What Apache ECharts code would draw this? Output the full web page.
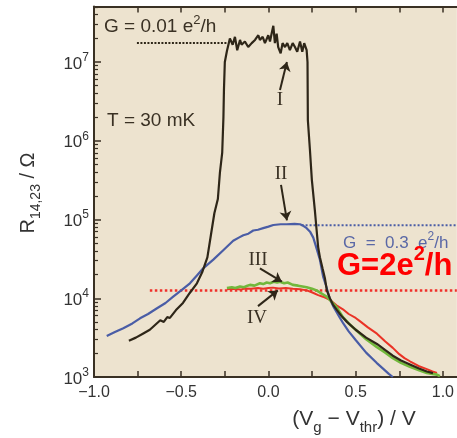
<!DOCTYPE html>
<html>
<head>
<meta charset="utf-8">
<script src="https://cdn.jsdelivr.net/npm/echarts@6/dist/echarts.min.js"></script>
<style>
  html, body { margin: 0; padding: 0; background: #fff; }
  #chart { width: 457px; height: 438px; }
</style>
</head>
<body>
<div id="chart"></div>
<script>
// curves: x = Vg - Vthr (V), y = log10(R / Ohm)
const blackX = [-0.80, -0.76, -0.72, -0.68, -0.65, -0.62, -0.60, -0.58, -0.565, -0.53, -0.49, -0.45, -0.41, -0.38, -0.35, -0.33, -0.31, -0.29, -0.278, -0.265, -0.258, -0.255, -0.25, -0.238,
  -0.221, -0.205, -0.192, -0.179, -0.163, -0.154, -0.135, -0.116, -0.096, -0.077, -0.058, -0.049, -0.033, -0.020, -0.001, 0.009, 0.018, 0.028, 0.037, 0.047, 0.056, 0.070, 0.081, 0.095, 0.108, 0.123, 0.139, 0.152, 0.165, 0.181, 0.194, 0.205, 0.219,
  0.224, 0.226, 0.238, 0.249, 0.266, 0.276, 0.285, 0.295, 0.31, 0.324, 0.335, 0.352, 0.37, 0.393, 0.42, 0.45, 0.50, 0.56, 0.622, 0.67, 0.713, 0.76, 0.811, 0.86, 0.908, 0.943];
const blackLogR = [3.46, 3.50, 3.55, 3.60, 3.66, 3.72, 3.70, 3.76, 3.75, 3.85, 3.94, 4.07, 4.19, 4.33, 4.52, 4.80, 5.08, 5.26, 5.60, 5.85, 6.30, 6.65, 7.00, 7.14,
  7.30, 7.22, 7.32, 7.15, 7.28, 7.22, 7.26, 7.19, 7.24, 7.28, 7.34, 7.28, 7.32, 7.24, 7.34, 7.26, 7.36, 7.46, 7.24, 7.36, 7.19, 7.11, 7.24, 7.19, 7.24, 7.15, 7.24, 7.19, 7.13, 7.26, 7.13, 7.24, 7.15,
  7.00, 6.26, 5.88, 5.50, 5.12, 4.87, 4.65, 4.52, 4.38, 4.25, 4.10, 4.00, 3.92, 3.85, 3.77, 3.70, 3.60, 3.50, 3.42, 3.34, 3.27, 3.21, 3.16, 3.11, 3.07, 3.05];

const blueX = [-0.927, -0.88, -0.832, -0.78, -0.736, -0.69, -0.641, -0.59, -0.546, -0.50, -0.45, -0.41, -0.374, -0.316, -0.259, -0.202, -0.17, -0.144, -0.115, -0.087, -0.06, -0.03, 0.0, 0.028, 0.07, 0.104, 0.15, 0.181, 0.20, 0.219, 0.24, 0.257, 0.275, 0.295, 0.314, 0.333, 0.352, 0.371, 0.41, 0.429, 0.46, 0.50, 0.56, 0.62, 0.66, 0.69, 0.713];
const blueLogR = [3.52, 3.57, 3.62, 3.68, 3.745, 3.80, 3.87, 3.94, 4.02, 4.10, 4.19, 4.29, 4.38, 4.49, 4.61, 4.73, 4.77, 4.80, 4.82, 4.86, 4.87, 4.89, 4.91, 4.93, 4.94, 4.94, 4.945, 4.94, 4.92, 4.89, 4.84, 4.77, 4.64, 4.49, 4.27, 4.14, 3.99, 3.90, 3.75, 3.68, 3.58, 3.47, 3.31, 3.18, 3.10, 3.04, 3.00];

const redX = [-0.238, -0.2, -0.16, -0.135, -0.1, -0.06, -0.03, 0.0, 0.026, 0.06, 0.1, 0.14, 0.181, 0.22, 0.255, 0.285, 0.312, 0.352, 0.39, 0.427, 0.46, 0.50, 0.524, 0.57, 0.622, 0.67, 0.713, 0.75, 0.78, 0.811, 0.86, 0.908, 0.94, 0.966];
const redLogR = [4.115, 4.12, 4.11, 4.125, 4.12, 4.13, 4.12, 4.13, 4.135, 4.125, 4.13, 4.12, 4.115, 4.10, 4.07, 4.04, 4.02, 3.98, 3.91, 3.86, 3.80, 3.75, 3.71, 3.63, 3.55, 3.45, 3.37, 3.29, 3.24, 3.20, 3.14, 3.10, 3.07, 3.05];

const greenX = [-0.238, -0.21, -0.19, -0.163, -0.14, -0.12, -0.106, -0.08, -0.049, -0.03, -0.01, 0.009, 0.03, 0.05, 0.066, 0.09, 0.11, 0.14, 0.17, 0.195, 0.219, 0.25, 0.276, 0.305, 0.333, 0.36, 0.393, 0.427, 0.46, 0.50, 0.56, 0.622, 0.67, 0.713, 0.76, 0.811, 0.86, 0.908, 0.94, 0.966, 0.983];
const greenLogR = [4.13, 4.14, 4.13, 4.15, 4.14, 4.16, 4.17, 4.16, 4.19, 4.18, 4.20, 4.19, 4.21, 4.20, 4.21, 4.19, 4.20, 4.17, 4.16, 4.15, 4.14, 4.12, 4.10, 4.06, 4.02, 3.96, 3.88, 3.76, 3.68, 3.60, 3.48, 3.38, 3.31, 3.24, 3.18, 3.13, 3.09, 3.05, 3.04, 3.03, 3.01];

// dotted reference levels (log10 R) and their x spans
const dotBlackLevel = 7.24, dotBlackSpan = [-0.754, -0.24];
const dotBlueLevel = 4.927, dotBlueSpan = [0.19, 1.08];
const dotRedLevel = 4.10, dotRedSpan = [-0.68, 1.08];

// arrows: [xTail, yTail, xTip, yTip]
const arrows = [
  [0.066, 6.644, 0.106, 7.0],
  [0.072, 5.44, 0.106, 4.99],
  [-0.049, 4.38, 0.077, 4.21],
  [-0.06, 3.90, 0.054, 4.10]
];

const xMin = -1, xMax = 1.08, yMin = 3, yMax = 7.705;
const xTicks = [-1, -0.75, -0.5, -0.25, 0, 0.25, 0.5, 0.75, 1];
const xLabels = [-1, -0.5, 0, 0.5, 1];
const yDecades = [3, 4, 5, 6, 7];

const minorTicks = [];
yDecades.forEach(n => {
  for (let k = 2; k <= 9; k++) {
    const v = n + Math.log10(k);
    if (v < yMax) minorTicks.push(v);
  }
});

const ink = '#3a3124';
const sans = 'Liberation Sans, Arial, sans-serif';
const serif = 'Liberation Serif, Times New Roman, serif';
const pts = (xs, ys) => xs.map((x, i) => [x, ys[i]]);

function curve(xs, ys, color, width) {
  return { type: 'line', data: pts(xs, ys), symbol: 'none', lineStyle: { color: color, width: width } };
}
function dotted(span, level, color, width, dash) {
  return { type: 'line', data: [[span[0], level], [span[1], level]], symbol: 'none', lineStyle: { color: color, width: width, type: dash } };
}

const axisLine = { onZero: false, lineStyle: { color: ink, width: 2 } };

const chart = echarts.init(document.getElementById('chart'));
chart.setOption({
  animation: false,
  grid: { left: 94, right: 0, top: 6.5, bottom: 61, show: true, backgroundColor: '#ede3cf', borderWidth: 0 },
  xAxis: [
    {
      type: 'value', min: xMin, max: xMax, position: 'bottom',
      axisLine: axisLine,
      axisTick: { inside: true, length: 6, customValues: xTicks, lineStyle: { color: ink, width: 1.5 } },
      axisLabel: { customValues: xLabels, formatter: v => v.toFixed(1).replace('-', '\u2212'), fontSize: 16, color: '#333', fontFamily: sans, margin: 8 },
      splitLine: { show: false }
    },
    {
      type: 'value', min: xMin, max: xMax, position: 'top',
      axisLine: axisLine,
      axisTick: { inside: true, length: 6, customValues: xTicks, lineStyle: { color: ink, width: 1.5 } },
      axisLabel: { show: false },
      splitLine: { show: false }
    }
  ],
  yAxis: [
    {
      type: 'value', min: yMin, max: yMax, position: 'left',
      axisLine: axisLine,
      axisTick: { inside: true, length: 7, customValues: yDecades, lineStyle: { color: ink, width: 1.5 } },
      axisLabel: {
        customValues: yDecades, margin: 5, color: '#333', fontFamily: sans,
        formatter: v => '{b|10}{s|' + v + '}',
        rich: {
          b: { fontSize: 17, fontFamily: sans, color: '#333', padding: [4, 0, 0, 0] },
          s: { fontSize: 12, fontFamily: sans, color: '#333', verticalAlign: 'top' }
        }
      },
      splitLine: { show: false }
    },
    {
      type: 'value', min: yMin, max: yMax, position: 'left',
      axisLine: { show: false, onZero: false },
      axisTick: { inside: true, length: 4, customValues: minorTicks, lineStyle: { color: ink, width: 1.2 } },
      axisLabel: { show: false },
      splitLine: { show: false }
    }
  ],
  series: [
    dotted(dotBlackSpan, dotBlackLevel, '#2e2618', 2, [2, 1.5]),
    dotted(dotBlueSpan, dotBlueLevel, '#4a5da6', 2, [2, 2]),
    dotted(dotRedSpan, dotRedLevel, '#f0302a', 2.5, [2.5, 2.5]),
    curve(blueX, blueLogR, '#4a5da6', 2.2),
    curve(redX, redLogR, '#ea3326', 2),
    curve(greenX, greenLogR, '#72b83c', 2.6),
    Object.assign(curve(blackX, blackLogR, '#2e2618', 2.2), {
      markLine: {
        silent: true, symbol: ['none', 'arrow'], symbolSize: 9,
        label: { show: false },
        lineStyle: { color: '#2e2618', width: 2, type: 'solid' },
        data: arrows.map(a => [{ coord: [a[0], a[1]] }, { coord: [a[2], a[3]] }])
      }
    })
  ],
  graphic: [
    { type: 'text', x: 104, y: 25, style: { text: '{a|G = 0.01 e}{s|2}{a|/h}', verticalAlign: 'middle', rich: {
      a: { fontSize: 19, fontFamily: sans, fill: ink, padding: [4, 0, 0, 0] }, s: { fontSize: 13, fontFamily: sans, fill: ink, verticalAlign: 'top' } } } },
    { type: 'text', x: 107, y: 121, style: { text: 'T = 30 mK', fontSize: 19, fontFamily: sans, fill: ink, verticalAlign: 'middle' } },
    { type: 'text', x: 343, y: 241, style: { text: '{a|G  =  0.3  e}{s|2}{a|/h}', verticalAlign: 'middle', rich: {
      a: { fontSize: 17, fontFamily: sans, fill: '#5a68a6', padding: [4, 0, 0, 0] }, s: { fontSize: 12, fontFamily: sans, fill: '#5a68a6', verticalAlign: 'top' } } } },
    { type: 'text', x: 337, y: 263, style: { text: '{a|G=2e}{s|2}{a|/h}', verticalAlign: 'middle', rich: {
      a: { fontSize: 31, fontWeight: 'bold', fontFamily: sans, fill: '#ff0000', padding: [6, 0, 0, 0] }, s: { fontSize: 20, fontWeight: 'bold', fontFamily: sans, fill: '#ff0000', verticalAlign: 'top' } } } },
    { type: 'text', x: 280, y: 100, style: { text: 'I', fontSize: 19, fontFamily: serif, fill: ink, align: 'center', verticalAlign: 'middle' } },
    { type: 'text', x: 281, y: 174, style: { text: 'II', fontSize: 19, fontFamily: serif, fill: ink, align: 'center', verticalAlign: 'middle' } },
    { type: 'text', x: 258, y: 260, style: { text: 'III', fontSize: 19, fontFamily: serif, fill: ink, align: 'center', verticalAlign: 'middle' } },
    { type: 'text', x: 257, y: 318, style: { text: 'IV', fontSize: 19, fontFamily: serif, fill: ink, align: 'center', verticalAlign: 'middle' } },
    { type: 'text', x: 31, y: 193, rotation: Math.PI / 2, style: { text: '{a|R}{s|14,23}{a| / \u03a9}', align: 'center', verticalAlign: 'middle', rich: {
      a: { fontSize: 20, fontFamily: sans, fill: '#333', padding: [0, 0, 5, 0] }, s: { fontSize: 14, fontFamily: sans, fill: '#333', verticalAlign: 'bottom' } } } },
    { type: 'text', x: 354, y: 422, style: { text: '{a|(V}{s|g}{a| \u2212 V}{s|thr}{a|) / V}', align: 'center', verticalAlign: 'middle', rich: {
      a: { fontSize: 21, fontFamily: sans, fill: '#333', padding: [0, 0, 5, 0] }, s: { fontSize: 15, fontFamily: sans, fill: '#333', verticalAlign: 'bottom' } } } }
  ]
});
</script>
</body>
</html>
